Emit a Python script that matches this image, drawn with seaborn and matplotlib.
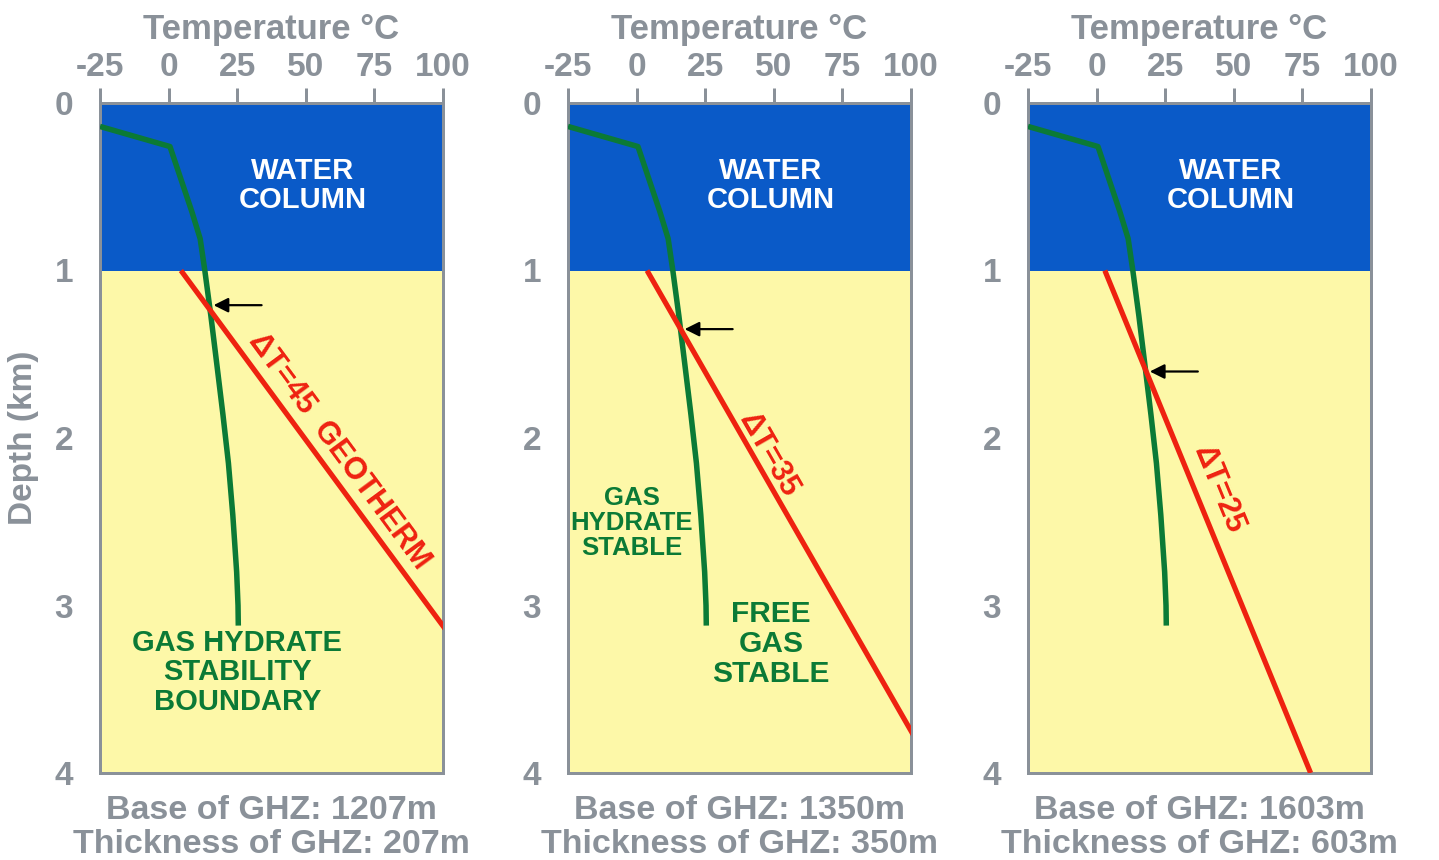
import numpy as np
import pandas as pd
import matplotlib
matplotlib.use("Agg")
import matplotlib.pyplot as plt
import seaborn as sns

# Gas hydrate stability boundary (temperature in °C vs depth in km)
boundary_temp = [-25.0, 0.5, 8.5, 11.5, 13.2, 15.4, 17.5, 19.8, 21.8, 23.4, 24.8, 25.3, 25.4]
boundary_depth = [0.14, 0.26, 0.65, 0.81, 1.0, 1.27, 1.55, 1.86, 2.15, 2.46, 2.8, 3.0, 3.12]

# Geotherms: seafloor temperature (°C) and gradient (°C/km) for each panel
seafloor_temp = [4.5, 3.8, 3.0]
gradients = [45, 35, 25]
geotherm_labels = ["\u0394T=45  GEOTHERM", "\u0394T=35", "\u0394T=25"]

# Base of gas hydrate zone (m) for each panel
ghz_base_m = [1207, 1350, 1603]

water_depth_km = 1.0
seafloor_km = [1.0, 1.0, 1.0]
x_ticks = [-25, 0, 25, 50, 75, 100]
y_ticks = [0, 1, 2, 3, 4]

GRAY = "#8a9199"
BLUE = "#0a5ac8"
YELLOW = "#fdf8a8"
GREEN = "#0b7a36"
RED = "#ee2210"

sns.set_theme(style="white")
plt.rcParams["font.family"] = ["Liberation Sans", "DejaVu Sans"]
plt.rcParams["axes.unicode_minus"] = False

DPI = 100
PT = 72.0 / DPI  # points per pixel

fig = plt.figure(figsize=(14.39, 8.60), dpi=DPI)
fig.patch.set_facecolor("white")

W, H = 1439, 860
lefts_px = [100, 568, 1028]
ax_w_px = 343
top_px, bottom_px = 103, 773

boundary = pd.DataFrame({"temp": boundary_temp, "depth": boundary_depth})

for i in range(3):
    ax = fig.add_axes([lefts_px[i] / W, 1 - bottom_px / H,
                       ax_w_px / W, (bottom_px - top_px) / H])
    ax.set_xlim(-25, 100)
    ax.set_ylim(4, 0)
    ax.axhspan(0, water_depth_km, color=BLUE, zorder=0, lw=0)
    ax.axhspan(water_depth_km, 4, color=YELLOW, zorder=0, lw=0)

    # hydrate stability boundary
    sns.lineplot(data=boundary, x="temp", y="depth", sort=False, ax=ax,
                 color=GREEN, lw=5.5 * PT, zorder=3, solid_capstyle="butt")

    # geotherm
    z = np.array([seafloor_km[i], 4.0])
    t = seafloor_temp[i] + gradients[i] * (z - seafloor_km[i])
    geo = pd.DataFrame({"temp": t, "depth": z})
    sns.lineplot(data=geo, x="temp", y="depth", sort=False, ax=ax,
                 color=RED, lw=5.2 * PT, zorder=4, solid_capstyle="butt")

    # arrow marking base of GHZ
    zb = ghz_base_m[i] / 1000.0
    tb = np.interp(zb, boundary_depth, boundary_temp)
    ax.annotate("", xy=(tb + 1.5, zb), xytext=(tb + 19, zb),
                arrowprops=dict(arrowstyle="-|>", color="black", lw=1.6,
                                mutation_scale=22, shrinkA=0, shrinkB=0),
                zorder=6)

    ax.text(49, 0.49, "WATER\nCOLUMN", color="white", fontsize=21,
            fontweight="bold", ha="center", va="center", linespacing=1.05)

    # geotherm label, rotated along the line
    p0 = ax.transData.transform((t[0], z[0]))
    p1 = ax.transData.transform((t[1], z[1]))
    ang = np.degrees(np.arctan2(p1[1] - p0[1], p1[0] - p0[0]))
    label_pos = [(62, 2.08), (48, 2.1), (44.5, 2.31)][i]
    ax.text(*label_pos, geotherm_labels[i], color=RED, fontsize=22,
            fontweight="bold", rotation=ang, rotation_mode="anchor",
            ha="center", va="center")

    ax.set_xticks(x_ticks)
    ax.set_yticks(y_ticks)
    ax.xaxis.tick_top()
    ax.xaxis.set_label_position("top")
    ax.tick_params(axis="x", direction="out", length=15 * PT, width=3 * PT,
                   color=GRAY, labelcolor=GRAY, labelsize=24, pad=5 * PT)
    ax.tick_params(axis="y", direction="out", length=18 * PT, width=3 * PT,
                   color=GRAY, labelcolor=GRAY, labelsize=24, pad=9 * PT)
    for lab in ax.get_xticklabels() + ax.get_yticklabels():
        lab.set_fontweight("bold")
    ax.set_xlabel("Temperature \u00b0C", color=GRAY, fontsize=25,
                  fontweight="bold", labelpad=9)
    if i == 0:
        ax.set_ylabel("Depth (km)", color=GRAY, fontsize=24, fontweight="bold")
        ax.yaxis.set_label_coords(-0.178, 0.5)
    else:
        ax.set_ylabel("")
    for s in ax.spines.values():
        s.set_color(GRAY)
        s.set_linewidth(3 * PT)

    # summary beneath each panel (baselines given in pixels from the top)
    base = ghz_base_m[i]
    thick = base - int(water_depth_km * 1000)
    xc = (lefts_px[i] + ax_w_px / 2) / W
    fig.text(xc, 1 - 819 / H, f"Base of GHZ: {base}m", ha="center",
             va="baseline", color=GRAY, fontsize=24.5, fontweight="bold")
    fig.text(xc, 1 - 853 / H, f"Thickness of GHZ: {thick}m", ha="center",
             va="baseline", color=GRAY, fontsize=24.5, fontweight="bold")

    if i == 0:
        ax.text(25, 3.4, "GAS HYDRATE\nSTABILITY\nBOUNDARY", color=GREEN,
                fontsize=21, fontweight="bold", ha="center", va="center",
                linespacing=1.08)
    if i == 1:
        ax.text(-1.8, 2.51, "GAS\nHYDRATE\nSTABLE", color=GREEN, fontsize=18.5,
                fontweight="bold", ha="center", va="center", linespacing=1.05)
        ax.text(49, 3.23, "FREE\nGAS\nSTABLE", color=GREEN, fontsize=21.5,
                fontweight="bold", ha="center", va="center", linespacing=1.08)

fig.savefig("out.png", dpi=DPI, facecolor="white")
